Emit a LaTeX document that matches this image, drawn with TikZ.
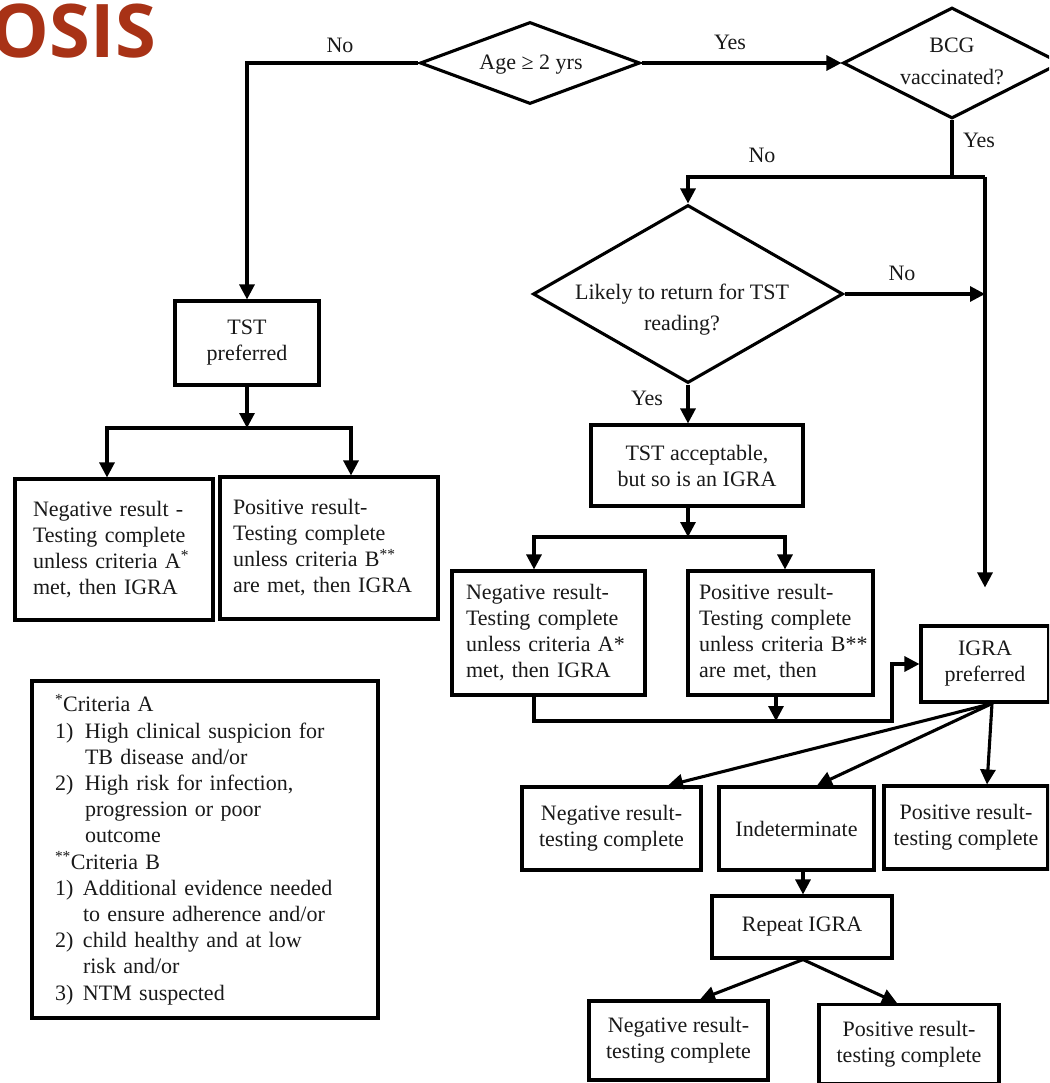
\documentclass[tikz,border=0pt]{standalone}
\usepackage{fontspec}
\setmainfont{Liberation Serif}
\newfontfamily\titlefont{Open Sans}
\usetikzlibrary{shapes.geometric,arrows.meta}
\definecolor{titlered}{RGB}{168,50,22}
\newcommand{\lne}[1]{\mbox{#1}}
\begin{document}
\begin{tikzpicture}[x=1pt,y=-1pt,
  every node/.style={font=\fontsize{22}{26}\selectfont, inner sep=0pt, text=black!90},
  box/.style={draw=black, line width=3.1pt, rectangle, align=center},
  lbox/.style={box, align=left},
  dia/.style={draw=black, diamond, line width=3.1pt, inner sep=0pt},
  conn/.style={line width=3.1pt, draw=black},
  arr/.style={conn, -{Triangle[length=15pt,width=15pt]}},
  lbl/.style={text=black!90}
]
\useasboundingbox (0,0) rectangle (1049,1083);
\fill[white] (0,0) rectangle (1049,1083);
\clip (0,0) rectangle (1049,1083);

% title
\node[anchor=base east, text=titlered, font=\titlefont\bfseries\fontsize{74}{74}\selectfont] (title) at (156,58) {OSIS};

% decisions
\node[dia, minimum width=220, minimum height=82] (age) at (530,63) {};
\node (agetxt) at (531,65) {Age ≥ 2 yrs};
\node[dia, minimum width=218, minimum height=111] (bcg) at (952,63) {};
\node[align=center, font=\fontsize{22}{32}\selectfont] (bcgtxt) at (952,61) {BCG\\vaccinated?};
\node[dia, minimum width=310, minimum height=178] (likely) at (688,294) {};
\node[align=center, font=\fontsize{22}{31}\selectfont] (likelytxt) at (682,310) {Likely to return for TST\\reading?};

% boxes
\node[box, minimum width=144, minimum height=84] (tstpref) at (247,343) {TST\\preferred};
\node[lbox, text width=162pt, inner xsep=18pt, minimum width=198, minimum height=141] (neg1) at (114,549.5)
  {\lne{Negative result -}\\\lne{Testing complete}\\\lne{unless criteria A\textsuperscript{*}}\\\lne{met, then IGRA}};
\node[lbox, text width=192pt, inner xsep=13pt, minimum width=218, minimum height=142] (pos1) at (329,548)
  {\lne{Positive result-}\\\lne{Testing complete}\\\lne{unless criteria B\textsuperscript{**}}\\\lne{are met, then IGRA}};
\node[box, minimum width=212, minimum height=81] (tstacc) at (697,465.5) {TST acceptable,\\but so is an IGRA};
\node[lbox, text width=165pt, inner xsep=14pt, minimum width=193, minimum height=124] (neg2) at (548.5,633)
  {\lne{Negative result-}\\\lne{Testing complete}\\\lne{unless criteria A*}\\\lne{met, then IGRA}};
\node[lbox, text width=163pt, inner xsep=11pt, minimum width=185, minimum height=124] (pos2) at (780.5,633)
  {\lne{Positive result-}\\\lne{Testing complete}\\\lne{unless criteria B**}\\\lne{are met, then}};
\node[box, minimum width=128, minimum height=76] (igra) at (985,664) {IGRA\\preferred};
\node[box, minimum width=179, minimum height=83] (negR) at (611.5,828.5) {Negative result-\\testing complete};
\node[box, minimum width=155, minimum height=83] (indet) at (796.5,828.5) {Indeterminate};
\node[box, minimum width=164, minimum height=83] (posR) at (966,827.5) {Positive result-\\testing complete};
\node[box, minimum width=180, minimum height=62] (repeat) at (802,927) {Repeat IGRA};
\node[box, minimum width=179, minimum height=79] (negF) at (678.5,1040.5) {Negative result-\\testing complete};
\node[box, minimum width=180, minimum height=79] (posF) at (909,1044) {Positive result-\\testing complete};

% criteria legend
\node[lbox, text width=300pt, inner xsep=23pt, minimum width=346, minimum height=337,
      font=\fontsize{22}{26.2}\selectfont] (crit) at (205,849.5)
  {\lne{\textsuperscript{*}Criteria A}\\
   \lne{\makebox[30pt][l]{1)}High clinical suspicion for}\\
   \lne{\hspace*{30pt}TB disease and/or}\\
   \lne{\makebox[30pt][l]{2)}High risk for infection,}\\
   \lne{\hspace*{30pt}progression or poor}\\
   \lne{\hspace*{30pt}outcome}\\
   \lne{\textsuperscript{**}Criteria B}\\
   \lne{\makebox[28pt][l]{1)}Additional evidence needed}\\
   \lne{\hspace*{28pt}to ensure adherence and/or}\\
   \lne{\makebox[28pt][l]{2)}child healthy and at low}\\
   \lne{\hspace*{28pt}risk and/or}\\
   \lne{\makebox[28pt][l]{3)}NTM suspected}};

% labels
\node[lbl] (lno1) at (340,45) {No};
\node[lbl] (lyes1) at (730,42) {Yes};
\node[lbl] (lyes2) at (979,140) {Yes};
\node[lbl] (lno2) at (762,155) {No};
\node[lbl] (lno3) at (902,273) {No};
\node[lbl] (lyes3) at (647,398) {Yes};

% helper coordinates
\coordinate (jn) at (952,177);
\coordinate (rt) at (985,177);
\coordinate (sp1) at (247,428);
\coordinate (sp2) at (688,537);
\coordinate (lq) at (892,721);
\coordinate (fan) at ([xshift=7pt]igra.south);

% connectors
\draw[arr] (age.west) -| (tstpref.north);
\draw[arr] (age.east) -- (bcg.west);
\draw[conn] (bcg.south) -- (jn);
\draw[arr] (jn) -| (likely.north);
\draw[conn] (jn) -- (rt);
\draw[arr, shorten >=37pt] (rt) -- (igra.north);
\draw[arr] (likely.east) -- (likely.east -| rt);
\draw[arr] (likely.south) -- (likely.south |- tstacc.north);

\draw[arr] (tstpref.south) -- (sp1);
\draw[arr] (sp1) -| ([xshift=-7pt]neg1.north);
\draw[arr] (sp1) -| ([xshift=22pt]pos1.north);

\draw[arr] (sp2 |- tstacc.south) -- (sp2);
\draw[arr] (sp2) -| ([xshift=-14.5pt]neg2.north);
\draw[arr] (sp2) -| ([xshift=4.5pt]pos2.north);

\draw[arr] ([xshift=-14.5pt]neg2.south) |- (lq) |- (igra.west);
\draw[arr] ([xshift=-4.5pt]pos2.south) -- ([xshift=-4.5pt]pos2.south |- lq);

\draw[arr] (fan) -- ([xshift=56.5pt]negR.north);
\draw[arr] (fan) -- ([xshift=20.5pt]indet.north);
\draw[arr] (fan) -- ([xshift=21pt]posR.north);

\draw[arr] ([xshift=6.5pt]indet.south) -- ([xshift=1pt]repeat.north);
\draw[arr] ([xshift=1pt]repeat.south) -- ([xshift=21.5pt]negF.north);
\draw[arr] ([xshift=1pt]repeat.south) -- ([xshift=-12pt]posF.north);
\end{tikzpicture}
\end{document}
